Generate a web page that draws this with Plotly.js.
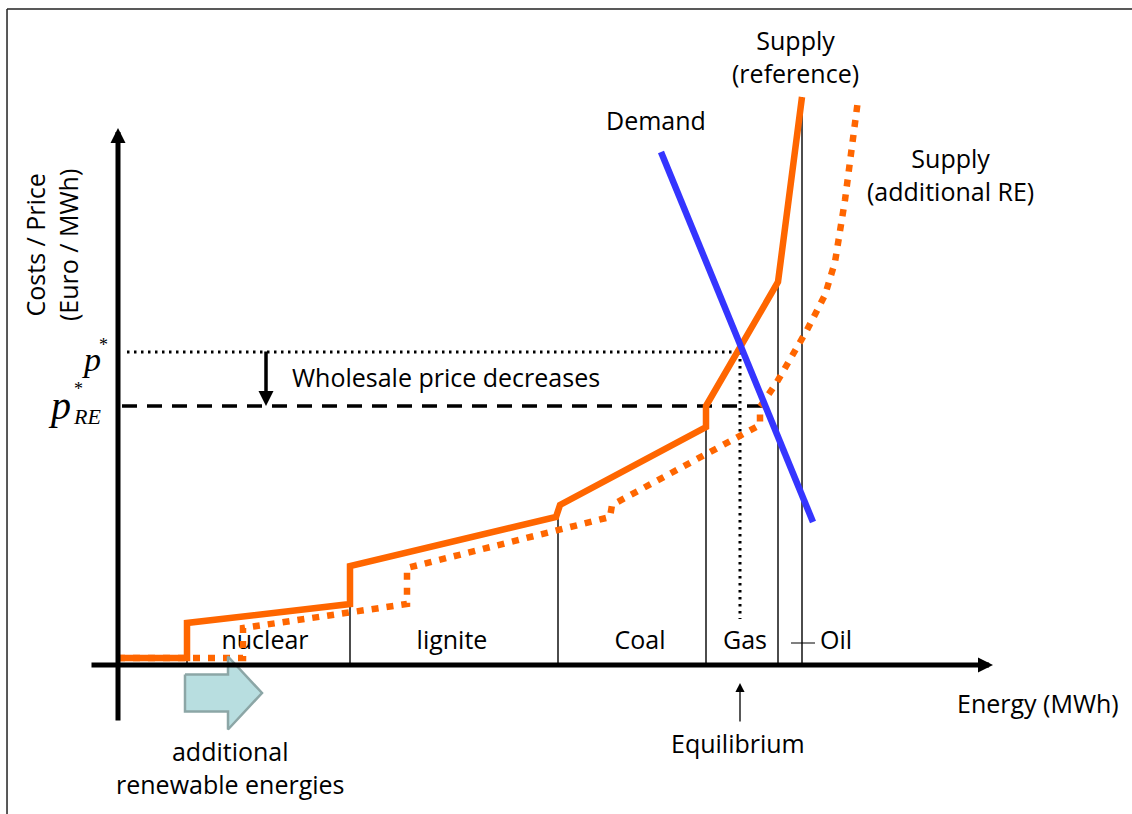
<!DOCTYPE html>
<html>
<head>
<meta charset="utf-8">
<script src="https://cdn.plot.ly/plotly-3.0.1.min.js"></script>
<style>html,body{margin:0;padding:0;background:#fff;}#chart{width:1132px;height:814px;}</style>
</head>
<body>
<div id="chart"></div>
<script>
// ---- data (energy units on x, price units on y) ----
const supplyRefX = [0, 6.9, 6.9, 23.2, 23.2, 43.8, 44.2, 58.8, 58.8, 66.0, 68.4];
const supplyRefY = [0.7, 0.7, 4.2, 6.1, 9.9, 14.8, 16.0, 23.8, 25.9, 38.3, 56.8];

const supplyREX = [0, 12.5, 12.5, 28.9, 28.9, 49.2, 49.4, 64.2, 64.2, 65.9, 68.9, 70.7, 71.7, 72.7, 74.0];
const supplyREY = [0.7, 0.7, 3.7, 6.1, 9.7, 14.8, 16.0, 24.0, 25.8, 28.3, 33.5, 37.0, 40.3, 46.5, 56.5];

const demandX = [54.3, 69.5];
const demandY = [51.3, 14.3];

// technology blocks: right boundary of each block and supply cost there
const blockEdgeX = [6.9, 23.2, 44.0, 58.8, 66.0, 68.4];
const blockEdgeTop = [0.7, 6.1, 14.8, 23.8, 38.3, 56.8];
const categories = ['nuclear', 'lignite', 'Coal', 'Gas', 'Oil'];
const categoryX = [14.7, 33.4, 52.2, 62.7, 71.8];
const categoryLabelY = 2.2;
const oilLeaderX = [67.3, 69.7];

const pStar = 31.3;       // equilibrium price (reference)
const pStarRE = 25.9;     // equilibrium price (additional RE)
const qStar = 62.2;       // equilibrium quantity
const pStarLineEnd = 62.0;
const pREline = [0.4, 64.5];

// ---- traces ----
const thin = {color: '#000', width: 1.4};
const traces = [];
blockEdgeX.forEach((x, i) => {
  traces.push({x: [x, x], y: [0, blockEdgeTop[i]], mode: 'lines', line: thin, hoverinfo: 'skip'});
});
traces.push({x: categoryX, y: categoryX.map(() => categoryLabelY), mode: 'text', text: categories,
  textposition: 'middle center', textfont: {family: 'Open Sans', size: 25, color: '#000'}, hoverinfo: 'skip'});
traces.push({x: oilLeaderX, y: [categoryLabelY, categoryLabelY], mode: 'lines', line: {color: '#000', width: 1}, hoverinfo: 'skip'});
traces.push({x: [0.9, pStarLineEnd], y: [pStar, pStar], mode: 'lines', line: {color: '#000', width: 3, dash: '2.5px,4.5px'}, hoverinfo: 'skip'});
traces.push({x: pREline, y: [pStarRE, pStarRE], mode: 'lines', line: {color: '#000', width: 3.5, dash: '15px,10px'}, hoverinfo: 'skip'});
traces.push({x: [qStar, qStar], y: [pStar, 4.6], mode: 'lines', line: {color: '#000', width: 3, dash: '2.5px,4.5px'}, hoverinfo: 'skip'});
traces.push({x: supplyREX, y: supplyREY, mode: 'lines', line: {color: '#FF6600', width: 6.5, dash: '7px,8px'}, hoverinfo: 'skip'});
traces.push({x: supplyRefX, y: supplyRefY, mode: 'lines', line: {color: '#FF6600', width: 6.5}, hoverinfo: 'skip'});
traces.push({x: demandX, y: demandY, mode: 'lines', line: {color: '#3535FF', width: 6.5}, hoverinfo: 'skip'});

// renewable shift block arrow
const reTail = 6.7, reNeck = 11.0, reTip = 14.4, reMid = -2.8, reBody = 1.85, reHead = 3.65;
traces.push({
  x: [reTail, reNeck, reNeck, reTip, reNeck, reNeck, reTail, reTail],
  y: [reMid + reBody, reMid + reBody, reMid + reHead, reMid, reMid - reHead, reMid - reBody, reMid - reBody, reMid + reBody],
  mode: 'lines', fill: 'toself', fillcolor: '#B8DEE0', line: {color: '#8CA6A6', width: 2.5}, hoverinfo: 'skip'
});

const F = 'Open Sans';
const txt = (x, y, text, extra) => Object.assign({x, y, xref: 'x', yref: 'y', text, showarrow: false,
  font: {family: F, size: 25, color: '#000'}, xanchor: 'center', yanchor: 'middle'}, extra || {});
const arrow = (x, y, ax, ay, w, s) => ({x, y, ax, ay, xref: 'x', yref: 'y', axref: 'x', ayref: 'y', text: '',
  showarrow: true, arrowhead: 2, arrowwidth: w, arrowsize: s, arrowcolor: '#000', standoff: 0, startstandoff: 0});
const serif = (size) => ({family: 'Liberation Serif', size, color: '#000'});

const annotations = [
  arrow(0, 53.7, 0, -5.7, 5, 0.6),
  arrow(87.5, 0, -2.8, 0, 5, 0.6),
  arrow(14.8, pStarRE, 14.8, pStar + 0.2, 3.5, 0.86),
  arrow(qStar, -1.8, qStar, -5.8, 1.3, 1.4),
  txt(67.7, 60.9, 'Supply<br>(reference)'),
  txt(83.2, 49.1, 'Supply<br>(additional RE)'),
  txt(53.8, 54.5, 'Demand'),
  txt(17.2, 28.8, 'Wholesale price decreases', {xanchor: 'left'}),
  txt(62.0, -7.8, 'Equilibrium'),
  txt(92.0, -3.8, 'Energy (MWh)'),
  txt(11.2, -10.2, 'additional<br>renewable energies'),
  txt(-6.7, 42.0, 'Costs / Price<br>(Euro / MWh)', {textangle: -90}),
  txt(-1.5, 30.6, '<i>p</i>', {font: serif(34), xanchor: 'right'}),
  txt(-2.1, 32.0, '*', {font: serif(18), xanchor: 'left'}),
  txt(-4.5, 26.0, '<i>p</i>', {font: serif(40), xanchor: 'right'}),
  txt(-4.7, 26.1, '<span style="font-size:18px">*</span><br><i>RE</i>', {font: serif(22), xanchor: 'left', align: 'left'})
];

const layout = {
  width: 1132, height: 814,
  margin: {l: 0, r: 0, t: 0, b: 0},
  paper_bgcolor: '#fff', plot_bgcolor: '#fff',
  showlegend: false,
  xaxis: {range: [-11.8, 101.4], visible: false, fixedrange: true},
  yaxis: {range: [-14.9, 66.5], visible: false, fixedrange: true},
  shapes: [
    {type: 'line', xref: 'paper', yref: 'paper', x0: 0.0062, x1: 0.0062, y0: 0, y1: 0.989, line: {color: '#222', width: 1.5}},
    {type: 'line', xref: 'paper', yref: 'paper', x0: 0.0062, x1: 1, y0: 0.989, y1: 0.989, line: {color: '#222', width: 1.5}}
  ],
  annotations: annotations
};

Plotly.newPlot('chart', traces, layout, {staticPlot: true, displayModeBar: false});
</script>
</body>
</html>
